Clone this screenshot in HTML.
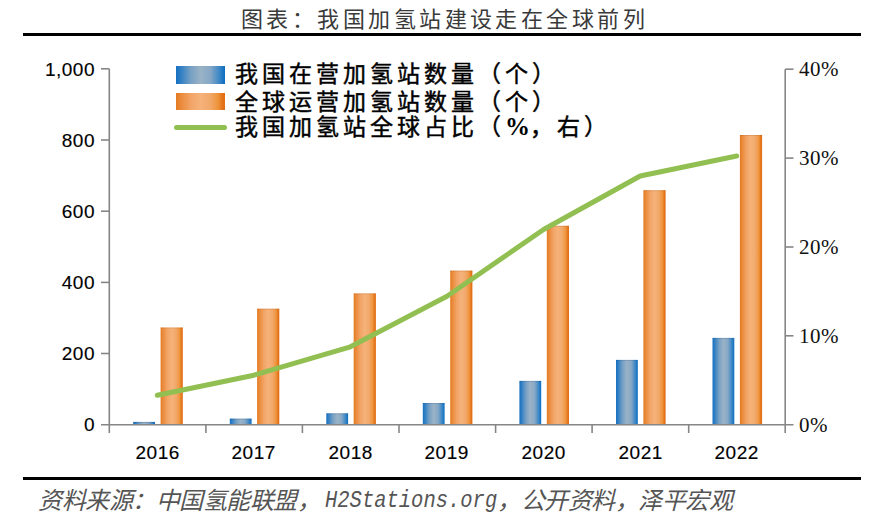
<!DOCTYPE html>
<html lang="zh-CN">
<head>
<meta charset="utf-8">
<style>
html,body{margin:0;padding:0;background:#fff;}
body{width:885px;height:525px;position:relative;overflow:hidden;font-family:"Liberation Sans",sans-serif;}
.t{position:absolute;white-space:nowrap;line-height:1;}
#title{left:241px;top:9px;font-size:22px;letter-spacing:3.45px;color:#3a3a3a;font-family:"Liberation Serif",serif;}
.lg{left:235px;font-size:23px;letter-spacing:4px;color:#000;font-family:"Liberation Serif",serif;font-weight:400;-webkit-text-stroke:0.45px #000;}
.yl{font-size:19px;letter-spacing:0.5px;color:#000;text-align:right;width:60px;-webkit-text-stroke:0.15px #000;}
.yr{font-size:21px;letter-spacing:0.5px;color:#111;font-family:"Liberation Serif",serif;}
.xl{font-size:19px;letter-spacing:0.5px;color:#000;-webkit-text-stroke:0.15px #000;}
.src{top:489px;font-size:24px;letter-spacing:-0.5px;color:#555;font-style:italic;font-family:"Liberation Serif",serif;}
</style>
</head>
<body>
<svg width="885" height="525" style="position:absolute;left:0;top:0">
<defs>
<linearGradient id="gb" x1="0" x2="1" y1="0" y2="0">
<stop offset="0" stop-color="#1670c0"/>
<stop offset="0.08" stop-color="#2a7cc4"/>
<stop offset="0.3" stop-color="#76a0c4"/>
<stop offset="0.5" stop-color="#9ab2c6"/>
<stop offset="0.7" stop-color="#86a8c6"/>
<stop offset="0.88" stop-color="#3e88c6"/>
<stop offset="1" stop-color="#0a6cc0"/>
</linearGradient>
<linearGradient id="go" x1="0" x2="1" y1="0" y2="0">
<stop offset="0" stop-color="#e47a22"/>
<stop offset="0.1" stop-color="#ea8a3a"/>
<stop offset="0.3" stop-color="#f2a466"/>
<stop offset="0.5" stop-color="#f5b27a"/>
<stop offset="0.7" stop-color="#f2a86a"/>
<stop offset="0.86" stop-color="#ee943a"/>
<stop offset="0.95" stop-color="#e3721a"/>
<stop offset="1" stop-color="#e46f14"/>
</linearGradient>
</defs>
<rect x="23" y="33" width="838" height="3" fill="#000"/>
<rect x="23" y="477" width="838" height="3" fill="#000"/>
<!-- legend -->
<rect x="176" y="66" width="49" height="18" fill="url(#gb)"/>
<rect x="176" y="93" width="49" height="17" fill="url(#go)"/>
<line x1="176.5" y1="127.5" x2="224.5" y2="127.5" stroke="#92bf51" stroke-width="5" stroke-linecap="round"/>
<!-- bars -->
<g id="bars">
<rect x="133.2" y="421.9" width="21.8" height="2.8" fill="url(#gb)"/><rect x="133.2" y="421.9" width="21.8" height="1" fill="rgba(20,60,110,0.18)"/>
<rect x="160.6" y="327.5" width="22.2" height="97.2" fill="url(#go)"/><rect x="160.6" y="327.5" width="22.2" height="1" fill="rgba(150,80,20,0.2)"/>
<rect x="229.8" y="418.6" width="21.8" height="6.1" fill="url(#gb)"/><rect x="229.8" y="418.6" width="21.8" height="1" fill="rgba(20,60,110,0.18)"/>
<rect x="257.1" y="308.7" width="22.2" height="116.0" fill="url(#go)"/><rect x="257.1" y="308.7" width="22.2" height="1" fill="rgba(150,80,20,0.2)"/>
<rect x="326.3" y="413.3" width="21.8" height="11.4" fill="url(#gb)"/><rect x="326.3" y="413.3" width="21.8" height="1" fill="rgba(20,60,110,0.18)"/>
<rect x="353.7" y="293.4" width="22.2" height="131.3" fill="url(#go)"/><rect x="353.7" y="293.4" width="22.2" height="1" fill="rgba(150,80,20,0.2)"/>
<rect x="422.8" y="403.0" width="21.8" height="21.7" fill="url(#gb)"/><rect x="422.8" y="403.0" width="21.8" height="1" fill="rgba(20,60,110,0.18)"/>
<rect x="450.2" y="270.6" width="22.2" height="154.1" fill="url(#go)"/><rect x="450.2" y="270.6" width="22.2" height="1" fill="rgba(150,80,20,0.2)"/>
<rect x="519.4" y="380.9" width="21.8" height="43.8" fill="url(#gb)"/><rect x="519.4" y="380.9" width="21.8" height="1" fill="rgba(20,60,110,0.18)"/>
<rect x="546.8" y="225.8" width="22.2" height="198.9" fill="url(#go)"/><rect x="546.8" y="225.8" width="22.2" height="1" fill="rgba(150,80,20,0.2)"/>
<rect x="616.0" y="359.9" width="21.8" height="64.8" fill="url(#gb)"/><rect x="616.0" y="359.9" width="21.8" height="1" fill="rgba(20,60,110,0.18)"/>
<rect x="643.4" y="190.2" width="22.2" height="234.5" fill="url(#go)"/><rect x="643.4" y="190.2" width="22.2" height="1" fill="rgba(150,80,20,0.2)"/>
<rect x="712.5" y="337.9" width="21.8" height="86.8" fill="url(#gb)"/><rect x="712.5" y="337.9" width="21.8" height="1" fill="rgba(20,60,110,0.18)"/>
<rect x="739.9" y="135.0" width="22.2" height="289.7" fill="url(#go)"/><rect x="739.9" y="135.0" width="22.2" height="1" fill="rgba(150,80,20,0.2)"/>
</g>
<!-- axes -->
<g stroke="#868686" stroke-width="1.6" fill="none">
<line x1="109.3" y1="68.8" x2="109.3" y2="433"/>
<line x1="785.2" y1="69.2" x2="785.2" y2="433"/>
<line x1="101" y1="424.7" x2="793.5" y2="424.7"/>
<line x1="101" y1="68.8" x2="109.3" y2="68.8"/>
<line x1="101" y1="140" x2="109.3" y2="140"/>
<line x1="101" y1="211.2" x2="109.3" y2="211.2"/>
<line x1="101" y1="282.4" x2="109.3" y2="282.4"/>
<line x1="101" y1="353.5" x2="109.3" y2="353.5"/>
<line x1="785.2" y1="69.2" x2="793.5" y2="69.2"/>
<line x1="785.2" y1="158.1" x2="793.5" y2="158.1"/>
<line x1="785.2" y1="247" x2="793.5" y2="247"/>
<line x1="785.2" y1="335.8" x2="793.5" y2="335.8"/>
<line x1="205.9" y1="424.7" x2="205.9" y2="433"/>
<line x1="302.4" y1="424.7" x2="302.4" y2="433"/>
<line x1="399" y1="424.7" x2="399" y2="433"/>
<line x1="495.6" y1="424.7" x2="495.6" y2="433"/>
<line x1="592.1" y1="424.7" x2="592.1" y2="433"/>
<line x1="688.7" y1="424.7" x2="688.7" y2="433"/>
</g>
<polyline points="157.3,395.3 253.9,375.2 350.4,346.8 447,296.2 543.6,229.5 640.2,176 736.7,156" fill="none" stroke="#92bf51" stroke-width="5" stroke-linecap="round" stroke-linejoin="round"/>
</svg>
<div class="t" id="title">图表：我国加氢站建设走在全球前列</div>
<div class="t lg" style="top:63px">我国在营加氢站数量（个）</div>
<div class="t lg" style="top:91px">全球运营加氢站数量（个）</div>
<div class="t lg" style="top:114px">我国加氢站全球占比（<span style="font-family:'Liberation Serif',serif;font-weight:bold;font-size:25px;letter-spacing:0.3px;-webkit-text-stroke:0">%</span>，右）</div>
<div class="t yl" style="left:35px;top:59.5px">1,000</div>
<div class="t yl" style="left:35px;top:130.5px">800</div>
<div class="t yl" style="left:35px;top:201.5px">600</div>
<div class="t yl" style="left:35px;top:272.5px">400</div>
<div class="t yl" style="left:35px;top:343.5px">200</div>
<div class="t yl" style="left:35px;top:414.5px">0</div>
<div class="t yr" style="left:799px;top:59px">40%</div>
<div class="t yr" style="left:799px;top:148px">30%</div>
<div class="t yr" style="left:799px;top:237px">20%</div>
<div class="t yr" style="left:799px;top:326px">10%</div>
<div class="t yr" style="left:799px;top:414.5px">0%</div>
<div class="t xl" style="left:135.5px;top:443px">2016</div>
<div class="t xl" style="left:231.5px;top:443px">2017</div>
<div class="t xl" style="left:328.5px;top:443px">2018</div>
<div class="t xl" style="left:424.5px;top:443px">2019</div>
<div class="t xl" style="left:521.5px;top:443px">2020</div>
<div class="t xl" style="left:618.5px;top:443px">2021</div>
<div class="t xl" style="left:714.5px;top:443px">2022</div>
<div class="t src" style="left:38px">资料来源：中国氢能联盟，</div>
<div class="t src" style="left:325px;font-family:'Liberation Mono',monospace;letter-spacing:0;font-size:24px;top:489px;transform:scaleX(0.854);transform-origin:0 0">H2Stations.org</div>
<div class="t src" style="left:497px">，公开资料，泽平宏观</div>
</body>
</html>
